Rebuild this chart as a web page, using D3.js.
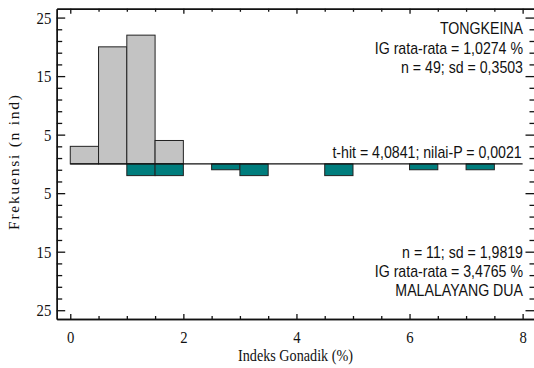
<!DOCTYPE html>
<html><head><meta charset="utf-8">
<script src="https://cdn.jsdelivr.net/npm/d3@7"></script>
<style>body{margin:0;background:#fff}svg{display:block}</style>
</head><body>
<svg id="c" width="534" height="368"></svg>
<script>
const binWidth = 0.5;
const topBins = [0, 0.5, 1.0, 1.5];
const topCounts = [3, 20, 22, 4];
const bottomBins = [1.0, 1.5, 2.5, 3.0, 4.5, 6.0, 7.0];
const bottomCounts = [2, 2, 1, 2, 2, 1, 1];
const xMajorTicks = [0, 2, 4, 6, 8];
const xMinorTicks = [0.5, 1, 1.5, 2.5, 3, 3.5, 4.5, 5, 5.5, 6.5, 7, 7.5];
const yMajorTicks = [-25, -15, -5, 5, 15, 25];
const yMinorTicks = [-23, -21, -19, -17, -13, -11, -9, -7, -3, -1, 1, 3, 7, 9, 11, 13, 17, 19, 21, 23];
const topLabels = ["TONGKEINA", "IG rata-rata = 1,0274 %", "n = 49; sd = 0,3503"];
const bottomLabels = ["n = 11; sd = 1,9819", "IG rata-rata = 3,4765 %", "MALALAYANG DUA"];
const testLabel = "t-hit = 4,0841; nilai-P = 0,0021";
const xTitle = "Indeks Gonadik (%)";
const yTitle = "Frekuensi (n ind)";

const L = 56.7, R = 534.5, T = 8.8, B = 319;
const svg = d3.select("#c");
const x = d3.scaleLinear().domain([-0.24, 8.21]).range([L, R]);
const y = d3.scaleLinear().domain([-26.5, 26.5]).range([B, T]);

const serif = "'Liberation Serif','Times New Roman',serif";
const sans = "'Liberation Sans',Arial,sans-serif";

// bars
svg.append("g").selectAll("rect").data(topBins).join("rect")
  .attr("x", (d) => x(d)).attr("width", (d) => x(d + binWidth) - x(d))
  .attr("y", (d, i) => y(topCounts[i])).attr("height", (d, i) => y(0) - y(topCounts[i]))
  .attr("fill", "#c3c3c3").attr("stroke", "#222").attr("stroke-width", 1);
svg.append("g").selectAll("rect").data(bottomBins).join("rect")
  .attr("x", (d) => x(d)).attr("width", (d) => x(d + binWidth) - x(d))
  .attr("y", y(0)).attr("height", (d, i) => y(-bottomCounts[i]) - y(0))
  .attr("fill", "#007d7d").attr("stroke", "#222").attr("stroke-width", 1);

// zero line
svg.append("line").attr("x1", x(0)).attr("x2", x(8)).attr("y1", y(0)).attr("y2", y(0))
  .attr("stroke", "#111").attr("stroke-width", 1.2);

function styleAxis(g) {
  g.selectAll("path.domain").attr("stroke", "#111").attr("stroke-width", 1.4);
  g.selectAll(".tick line").attr("stroke", "#111").attr("stroke-width", 1.3);
}

// left axis
const gl = svg.append("g").attr("transform", `translate(${L},0)`);
gl.call(d3.axisLeft(y).tickValues(yMinorTicks).tickSize(-5.5).tickSizeOuter(0).tickFormat(""));
gl.append("g").call(d3.axisLeft(y).tickValues(yMajorTicks).tickSize(-8.5).tickSizeOuter(0)
  .tickPadding(6.5).tickFormat((d) => Math.abs(d)));
styleAxis(gl);
gl.selectAll("text").attr("font-family", serif).attr("font-size", 17.5).attr("fill", "#111")
  .attr("transform", "scale(0.84,1)");

// right ticks
const gr = svg.append("g").attr("transform", `translate(${R},0)`);
gr.call(d3.axisRight(y).tickValues(yMinorTicks).tickSize(-5).tickSizeOuter(0).tickFormat(""));
gr.append("g").call(d3.axisRight(y).tickValues(yMajorTicks).tickSize(-9).tickSizeOuter(0).tickFormat(""));
styleAxis(gr);

// bottom axis
const gb = svg.append("g").attr("transform", `translate(0,${B})`);
gb.call(d3.axisBottom(x).tickValues(xMinorTicks).tickSize(-3).tickSizeOuter(0).tickFormat(""));
gb.append("g").call(d3.axisBottom(x).tickValues(xMajorTicks).tickSize(-5).tickSizeOuter(0)
  .tickPadding(12).tickFormat(d3.format("d")));
styleAxis(gb);
gb.selectAll("text").attr("font-family", serif).attr("font-size", 17.5).attr("fill", "#111")
  .attr("transform", "scale(0.84,1)");

// top axis
const gt = svg.append("g").attr("transform", `translate(0,${T})`);
gt.call(d3.axisTop(x).tickValues(xMinorTicks).tickSize(-3).tickSizeOuter(0).tickFormat(""));
gt.append("g").call(d3.axisTop(x).tickValues(xMajorTicks).tickSize(-5).tickSizeOuter(0).tickFormat(""));
styleAxis(gt);

// annotations
function sansText(txt, xe, yb) {
  svg.append("text").attr("transform", `translate(${xe},${yb}) scale(0.885,1)`)
    .attr("text-anchor", "end").attr("font-family", sans).attr("font-size", 16)
    .attr("fill", "#111").text(txt);
}
const topBase = [34.3, 53.5, 72.5];
topLabels.forEach((t, i) => sansText(t, 523, topBase[i]));
const botBase = [257.5, 276.8, 296];
bottomLabels.forEach((t, i) => sansText(t, 523, botBase[i]));
sansText(testLabel, 521.7, 158);

// titles
svg.append("text").attr("x", 295.5).attr("y", 361).attr("text-anchor", "middle")
  .attr("font-family", serif).attr("font-size", 17).attr("fill", "#111")
  .attr("textLength", 115).attr("lengthAdjust", "spacingAndGlyphs").text(xTitle);
svg.append("text").attr("transform", "translate(19,162.5) rotate(-90)").attr("text-anchor", "middle")
  .attr("font-family", serif).attr("font-size", 15.5).attr("fill", "#111")
  .attr("textLength", 135).attr("lengthAdjust", "spacing").text(yTitle);
</script>
</body></html>
